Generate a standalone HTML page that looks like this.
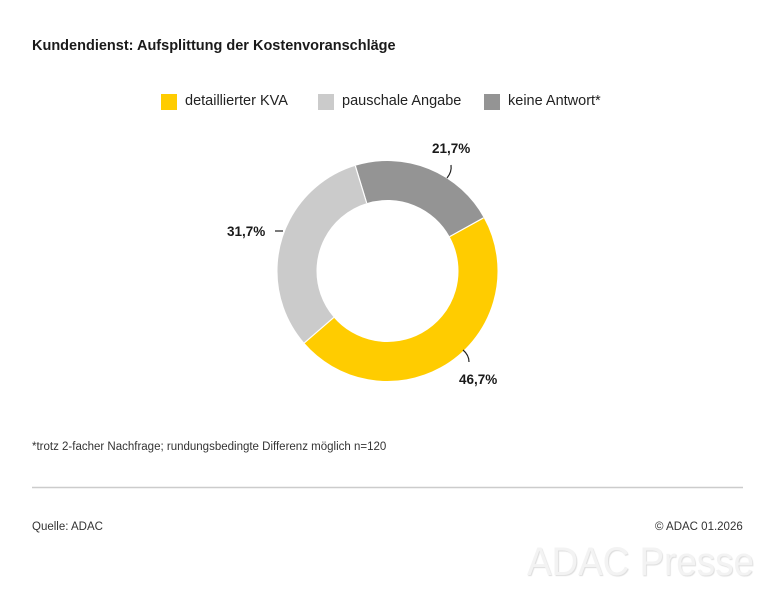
<!DOCTYPE html>
<html><head><meta charset="utf-8"><style>
body{margin:0;background:#fff;font-family:"Liberation Sans",sans-serif;color:#222}
.w{position:relative;width:775px;height:600px;overflow:hidden}
.t{position:absolute;left:32px;top:38px;font-size:14.5px;font-weight:bold;color:#1a1a1a}
.lg{position:absolute;top:93px;font-size:14.5px;color:#222;white-space:nowrap}
.sq{position:absolute;top:94px;width:16px;height:16px}
.s{position:absolute;font-size:11.5px;color:#333;white-space:nowrap}
.wm{position:absolute;left:527px;top:540px;font-size:40px;color:#f3f3f3;white-space:nowrap;letter-spacing:0px;text-shadow:1px 1px 1px #ddd;transform:scaleX(0.92);transform-origin:left top}
</style></head><body><div class="w">
<div class="t">Kundendienst: Aufsplittung der Kostenvoranschläge</div>
<div class="sq" style="left:161px;background:#ffcc00"></div><div class="lg" style="left:185px">detaillierter KVA</div>
<div class="sq" style="left:318px;background:#cbcbcb"></div><div class="lg" style="left:342px">pauschale Angabe</div>
<div class="sq" style="left:484px;background:#949494"></div><div class="lg" style="left:508px">keine Antwort*</div>
<svg width="775" height="600" style="position:absolute;left:0;top:0">
<g fill="none" stroke-width="39">
<circle cx="387.5" cy="271" r="90.5" stroke="#949494" stroke-dasharray="123.4 1000" transform="rotate(-107 387.5 271)"/>
<circle cx="387.5" cy="271" r="90.5" stroke="#ffcc00" stroke-dasharray="265.5 1000" transform="rotate(-28.9 387.5 271)"/>
<circle cx="387.5" cy="271" r="90.5" stroke="#cbcbcb" stroke-dasharray="180.2 1000" transform="rotate(139.2 387.5 271)"/>
</g>
<g stroke="#fff" stroke-width="1.2">
<line x1="366.7" y1="203.1" x2="355.3" y2="165.8"/>
<line x1="449.6" y1="236.6" x2="483.6" y2="217.8"/>
<line x1="333.8" y1="317.4" x2="304.3" y2="342.9"/>
</g>
<g stroke="#222" stroke-width="1.2" fill="none">
<path d="M447 178 Q452 172 451 165"/>
<path d="M275 231 L283 231"/>
<path d="M463 350 Q469 355 469 362"/>
</g>
<g font-family="Liberation Sans,sans-serif" font-weight="bold" font-size="13.5" fill="#1a1a1a">
<text x="432" y="153">21,7%</text>
<text x="227" y="236">31,7%</text>
<text x="459" y="384">46,7%</text>
</g>
<line x1="32" y1="487.5" x2="743" y2="487.5" stroke="#ccc" stroke-width="1.5"/>
</svg>
<div class="s" style="left:32px;top:441px">*trotz 2-facher Nachfrage; rundungsbedingte Differenz möglich n=120</div>
<div class="s" style="left:32px;top:521px">Quelle: ADAC</div>
<div class="s" style="left:655px;top:521px">© ADAC 01.2026</div>
<div class="wm">ADAC Presse</div>
</div></body></html>
